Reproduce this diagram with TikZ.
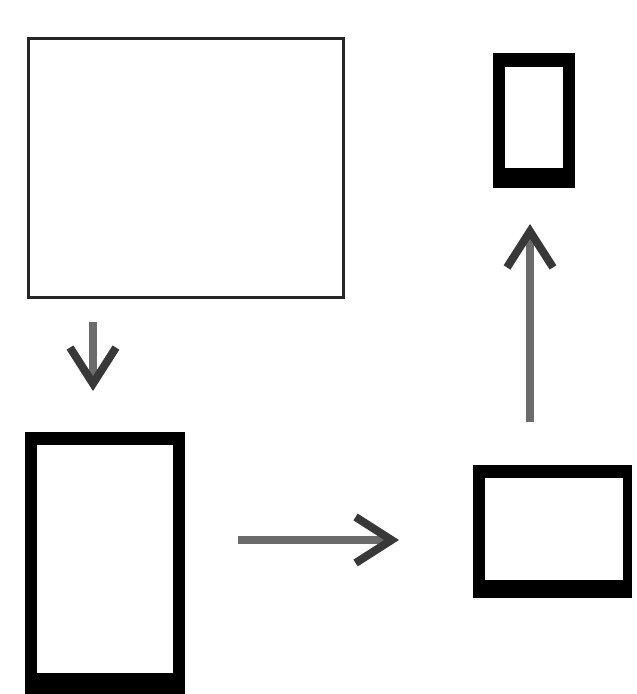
\documentclass[tikz,border=0pt]{standalone}
\usetikzlibrary{arrows.meta}
\begin{document}
\begin{tikzpicture}[x=1pt,y=-1pt,
  thinbox/.style={draw=black!85, line width=3pt, fill=white, inner sep=0pt, anchor=north west},
  thickbox/.style={fill=black, inner sep=0pt, anchor=north west},
  flow/.style={draw=black!58, line width=7.5pt,
    -{Straight Barb[length=36pt,width=46pt,color=black!78,line width=8pt]}}]
\useasboundingbox[fill=white] (0,0) rectangle (637,694);
% top-left box
\node[thinbox, minimum width=315pt, minimum height=259pt] (big) at (26.5,36.5) {};
% bottom-left box
\node[thickbox, minimum width=160pt, minimum height=262pt] (tall) at (25,432) {};
\fill[white] ([shift={(12,13)}]tall.north west) rectangle ([shift={(-12,-21)}]tall.south east);
% bottom-right box
\node[thickbox, minimum width=159pt, minimum height=133pt] (wide) at (473,465) {};
\fill[white] ([shift={(12,13)}]wide.north west) rectangle ([shift={(-9,-18)}]wide.south east);
% top-right box
\node[thickbox, minimum width=82pt, minimum height=135pt] (small) at (493,53) {};
\fill[white] ([shift={(12,14)}]small.north west) rectangle ([shift={(-12,-20)}]small.south east);
% arrow end points
\coordinate (d1) at (93,322);
\coordinate (d2) at (93,391);
\coordinate (r1) at (238,540);
\coordinate (r2) at (399,540);
\coordinate (u1) at (530,422);
\coordinate (u2) at (530,224);
\draw[flow] (d1) -- (d2);
\draw[flow] (r1) -- (r2);
\draw[flow] (u1) -- (u2);
\end{tikzpicture}
\end{document}
